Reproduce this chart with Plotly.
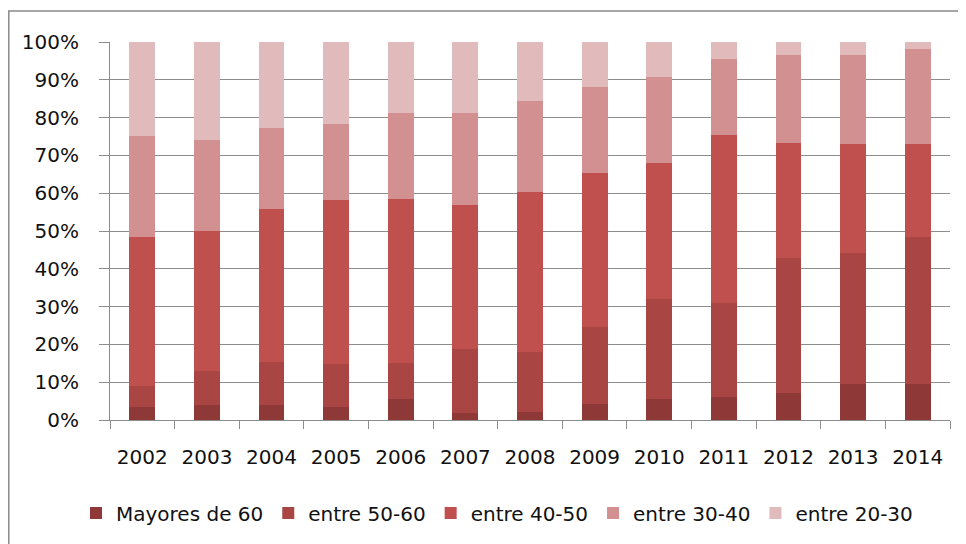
import plotly.graph_objects as go

years = ["2002", "2003", "2004", "2005", "2006", "2007", "2008",
         "2009", "2010", "2011", "2012", "2013", "2014"]

mayores_60 = [3.5, 4.0, 3.9, 3.5, 5.5, 1.8, 2.2, 4.2, 5.5, 6.2, 7.2, 9.6, 9.6]
entre_50_60 = [5.5, 9.0, 11.4, 11.3, 9.5, 17.0, 15.9, 20.4, 26.6, 24.8, 35.6, 34.6, 38.8]
entre_40_50 = [39.3, 37.0, 40.5, 43.4, 43.5, 38.0, 42.1, 40.7, 35.9, 44.5, 30.6, 28.8, 24.6]
entre_30_40 = [26.9, 24.2, 21.4, 20.0, 22.7, 24.4, 24.1, 22.7, 22.8, 19.9, 23.1, 23.5, 25.2]
entre_20_30 = [24.8, 25.8, 22.8, 21.8, 18.8, 18.8, 15.7, 12.0, 9.2, 4.6, 3.5, 3.5, 1.8]

series_names = ["Mayores de 60", "entre 50-60", "entre 40-50", "entre 30-40", "entre 20-30"]
series_values = [mayores_60, entre_50_60, entre_40_50, entre_30_40, entre_20_30]
series_colors = ["#8E3838", "#A94543", "#C0504D", "#D29091", "#E1BBBC"]

y_tickvals = [0, 10, 20, 30, 40, 50, 60, 70, 80, 90, 100]
y_ticktext = ["0%", "10%", "20%", "30%", "40%", "50%", "60%", "70%", "80%", "90%", "100%"]

fig = go.Figure()
for name, vals, col in zip(series_names, series_values, series_colors):
    fig.add_trace(go.Bar(
        x=years, y=vals, name=name,
        marker=dict(color=col, line=dict(width=0)),
    ))

OFF = 8  # page body margin
W, H = 958, 536
ml, mr, mt, mb = 102, 16, 34, 124
pw = W - ml - mr
ph = H - mt - mb

def px_x(p):
    return (p - OFF - ml) / pw

def px_y(p):
    return (H - mb - (p - OFF)) / ph

fig.update_layout(
    width=W, height=H,
    barmode="stack",
    bargap=0.6,
    plot_bgcolor="white",
    paper_bgcolor="white",
    margin=dict(l=ml, r=mr, t=mt, b=mb, pad=0, autoexpand=False),
    font=dict(family="DejaVu Sans", size=20, color="#111111"),
    showlegend=True,
    legend=dict(
        orientation="h",
        x=px_x(497), xanchor="center",
        y=px_y(513), yanchor="middle",
        traceorder="normal",
        font=dict(size=20, color="#111111"),
        itemwidth=30,
        bgcolor="rgba(0,0,0,0)",
    ),
    xaxis=dict(
        type="category",
        showline=True, linecolor="#8c8c8c", linewidth=1,
        ticks="outside", ticklen=8, tickcolor="#8c8c8c", tickwidth=1,
        tickson="boundaries",
        showgrid=False,
        ticklabelstandoff=19,
    ),
    yaxis=dict(
        range=[0, 100],
        tickvals=y_tickvals, ticktext=y_ticktext,
        showline=True, linecolor="#8c8c8c", linewidth=1,
        ticks="outside", ticklen=10, tickcolor="#8c8c8c", tickwidth=1,
        showgrid=True, gridcolor="#8c8c8c", gridwidth=1,
        zeroline=False,
        ticklabelstandoff=16,
    ),
    shapes=[dict(
        type="rect", xref="paper", yref="paper",
        x0=px_x(8.8), x1=px_x(985), y0=px_y(560), y1=px_y(11),
        line=dict(color="#8a8a8a", width=1.5),
        fillcolor="rgba(0,0,0,0)",
        layer="below",
    )],
)

fig.write_html("out.html")
